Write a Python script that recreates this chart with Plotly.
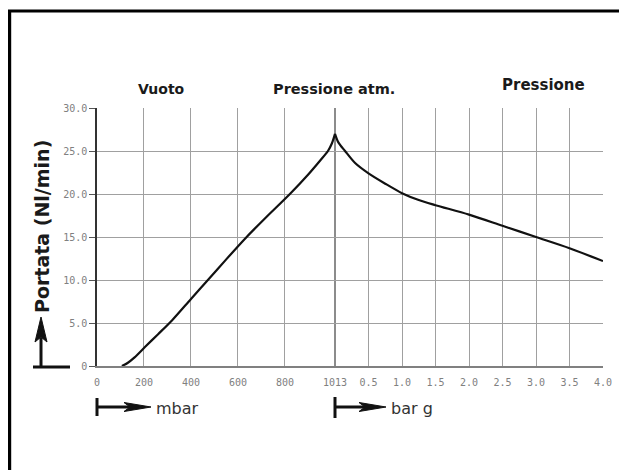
import plotly.graph_objects as go

# ---- data ----
vac_mbar = [106, 130, 160, 204, 260, 319, 400, 472, 550, 637, 720, 821, 900, 950, 983, 1000, 1013]
vac_flow = [0, 0.35, 1.0, 2.2, 3.7, 5.3, 7.8, 10.0, 12.4, 15.0, 17.3, 20.0, 22.3, 23.9, 25.0, 25.9, 27.0]

prs_bar = [0, 0.05, 0.15, 0.3, 0.5, 0.75, 1.0, 1.25, 1.5, 2.0, 2.5, 3.0, 3.5, 4.0]
prs_flow = [27.0, 26.0, 25.0, 23.6, 22.4, 21.2, 20.1, 19.3, 18.7, 17.6, 16.3, 15.0, 13.7, 12.2]

y_ticks = [0, 5, 10, 15, 20, 25, 30]
y_labels = ["0", "5.0", "10.0", "15.0", "20.0", "25.0", "30.0"]
mbar_ticks = [0, 200, 400, 600, 800, 1013]
mbar_labels = ["0", "200", "400", "600", "800", "1013"]
bar_ticks = [0.5, 1.0, 1.5, 2.0, 2.5, 3.0, 3.5, 4.0]
bar_labels = ["0.5", "1.0", "1.5", "2.0", "2.5", "3.0", "3.5", "4.0"]

# ---- geometry (screen coordinates; page body adds an 8px offset) ----
W, H = 627, 470
OFF = 8
X0, X1, Y0, Y1 = 97, 603, 108, 366   # plot area in screen pixels
L, R = X0 - OFF, W - (X1 - OFF)
T, B = Y0 - OFF, H - (Y1 - OFF)
PW, PH = X1 - X0, Y1 - Y0


def px(x):
    return (x - X0) / PW


def py(y):
    return (Y1 - y) / PH


split = px(335)

TICKFONT = dict(family="DejaVu Sans Mono", size=10, color="#808080")
GRID = "#a0a0a0"
BOLD = "DejaVu Sans"

fig = go.Figure()
fig.add_trace(go.Scatter(x=vac_mbar, y=vac_flow, mode="lines", xaxis="x", yaxis="y",
                         line=dict(color="#111111", width=2.2, shape="spline", smoothing=0.8),
                         showlegend=False, cliponaxis=False))
fig.add_trace(go.Scatter(x=prs_bar, y=prs_flow, mode="lines", xaxis="x2", yaxis="y",
                         line=dict(color="#111111", width=2.2, shape="spline", smoothing=0.8),
                         showlegend=False, cliponaxis=False))

axis_common = dict(showgrid=True, gridcolor=GRID, gridwidth=1, zeroline=False,
                   showline=True, linecolor="#808080", linewidth=2,
                   ticks="outside", ticklen=6, tickcolor="rgba(0,0,0,0)",
                   tickfont=TICKFONT, fixedrange=True)

fig.update_layout(
    width=W, height=H,
    margin=dict(l=L, r=R, t=T, b=B),
    paper_bgcolor="white", plot_bgcolor="white",
    xaxis=dict(domain=[0, split], range=[0, 1013], tickvals=mbar_ticks,
               ticktext=mbar_labels, anchor="y", **axis_common),
    xaxis2=dict(domain=[split, 1], range=[0, 4], tickvals=bar_ticks,
                ticktext=bar_labels, anchor="y", **axis_common),
    yaxis=dict(range=[0, 30], tickvals=y_ticks, ticktext=y_labels,
               showgrid=True, gridcolor=GRID, gridwidth=1, zeroline=False,
               showline=True, linecolor="#333333", linewidth=1.5,
               ticks="outside", ticklen=6, tickcolor="#555555",
               tickfont=TICKFONT, fixedrange=True),
)

shapes = []
# frame (top and left) - kept just inside the figure's left edge
shapes.append(dict(type="line", xref="paper", yref="paper", x0=px(9.6), x1=px(9.6),
                   y0=py(11), y1=py(480), line=dict(color="black", width=3.2)))
shapes.append(dict(type="line", xref="paper", yref="paper", x0=px(8), x1=px(640),
                   y0=py(11), y1=py(11), line=dict(color="black", width=3.2)))
# separator at atmospheric pressure
shapes.append(dict(type="line", xref="paper", yref="paper", x0=split, x1=split,
                   y0=0, y1=1, line=dict(color="#666666", width=1.5), layer="below"))

# up arrow next to y title
shapes.append(dict(type="line", xref="paper", yref="paper", x0=px(41), x1=px(41),
                   y0=py(367), y1=py(338), line=dict(color="#111111", width=3)))
shapes.append(dict(type="line", xref="paper", yref="paper", x0=px(33), x1=px(70),
                   y0=py(367), y1=py(367), line=dict(color="#111111", width=3)))
shapes.append(dict(type="path", xref="paper", yref="paper",
                   path=f"M {px(41)},{py(317)} L {px(35)},{py(342)} L {px(41)},{py(337)} L {px(47)},{py(342)} Z",
                   fillcolor="#111111", line=dict(color="#111111", width=1)))


def right_arrow(x0, tip, yc, top, bot):
    out = []
    out.append(dict(type="line", xref="paper", yref="paper", x0=px(x0), x1=px(x0),
                    y0=py(top), y1=py(bot), line=dict(color="#111111", width=3)))
    out.append(dict(type="line", xref="paper", yref="paper", x0=px(x0), x1=px(tip - 18),
                    y0=py(yc), y1=py(yc), line=dict(color="#111111", width=3)))
    out.append(dict(type="path", xref="paper", yref="paper",
                    path=(f"M {px(tip)},{py(yc)} L {px(tip - 27)},{py(yc - 4.5)} "
                          f"L {px(tip - 21)},{py(yc)} L {px(tip - 27)},{py(yc + 4.5)} Z"),
                    fillcolor="#111111", line=dict(color="#111111", width=1)))
    return out


shapes += right_arrow(97, 151, 407, 398, 416)
shapes += right_arrow(335, 386, 407, 397, 418)
fig.update_layout(shapes=shapes)

ann = [
    dict(text="<b>Vuoto</b>", x=px(161), y=py(89), font=dict(family=BOLD, size=14, color="#1a1a1a")),
    dict(text="<b>Pressione atm.</b>", x=px(334), y=py(89), font=dict(family=BOLD, size=14.5, color="#1a1a1a")),
    dict(text="<b>Pressione</b>", x=px(543), y=py(85), font=dict(family=BOLD, size=15, color="#1a1a1a")),
    dict(text="<b>Portata (Nl/min)</b>", x=px(42), y=py(227), textangle=-90,
         font=dict(family=BOLD, size=19, color="#1a1a1a")),
]
for a in ann:
    a.update(xref="paper", yref="paper", showarrow=False, xanchor="center", yanchor="middle")
ann.append(dict(text="mbar", x=px(154), y=py(408), xref="paper", yref="paper", showarrow=False,
                xanchor="left", yanchor="middle", font=dict(family="DejaVu Sans", size=16, color="#333333")))
ann.append(dict(text="bar g", x=px(389), y=py(408), xref="paper", yref="paper", showarrow=False,
                xanchor="left", yanchor="middle", font=dict(family="DejaVu Sans", size=16, color="#333333")))
fig.update_layout(annotations=ann)

fig.write_html("out.html")
